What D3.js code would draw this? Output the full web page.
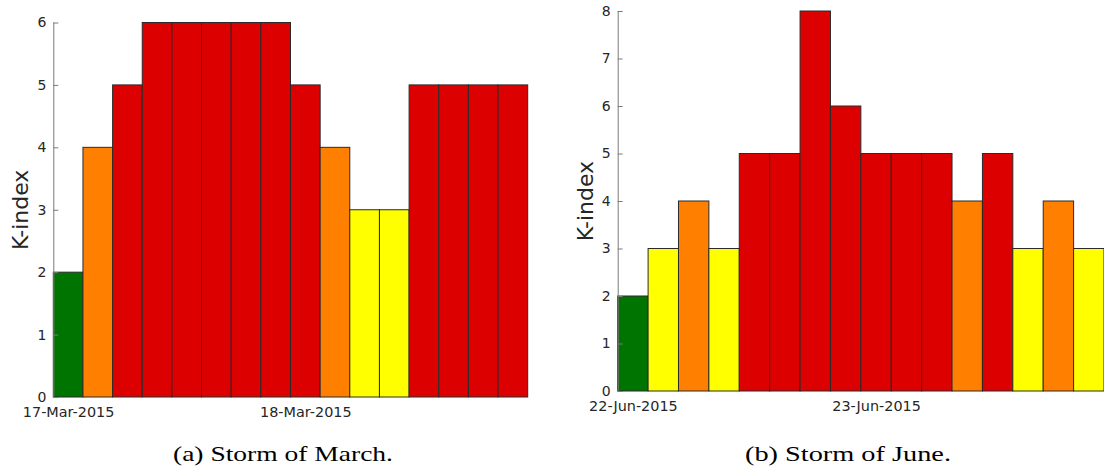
<!DOCTYPE html>
<html>
<head>
<meta charset="utf-8">
<script src="https://cdn.jsdelivr.net/npm/d3@7"></script>
<style>
  html, body { margin: 0; padding: 0; background: #fff; }
  svg { display: block; }
</style>
</head>
<body>
<svg id="fig" width="1104" height="470"></svg>
<script>
// Three-hourly K-index during two geomagnetic storms (2015)
const marchTimes = [
  "2015-03-17 00:00", "2015-03-17 03:00", "2015-03-17 06:00", "2015-03-17 09:00",
  "2015-03-17 12:00", "2015-03-17 15:00", "2015-03-17 18:00", "2015-03-17 21:00",
  "2015-03-18 00:00", "2015-03-18 03:00", "2015-03-18 06:00", "2015-03-18 09:00",
  "2015-03-18 12:00", "2015-03-18 15:00", "2015-03-18 18:00", "2015-03-18 21:00"
];
const marchK = [2, 4, 5, 6, 6, 6, 6, 6, 5, 4, 3, 3, 5, 5, 5, 5];

const juneTimes = [
  "2015-06-22 00:00", "2015-06-22 03:00", "2015-06-22 06:00", "2015-06-22 09:00",
  "2015-06-22 12:00", "2015-06-22 15:00", "2015-06-22 18:00", "2015-06-22 21:00",
  "2015-06-23 00:00", "2015-06-23 03:00", "2015-06-23 06:00", "2015-06-23 09:00",
  "2015-06-23 12:00", "2015-06-23 15:00", "2015-06-23 18:00", "2015-06-23 21:00"
];
const juneK = [2, 3, 4, 3, 5, 5, 8, 6, 5, 5, 5, 4, 5, 3, 4, 3];

const marchYTicks = [0, 1, 2, 3, 4, 5, 6];
const juneYTicks = [0, 1, 2, 3, 4, 5, 6, 7, 8];
const marchXTicks = ["2015-03-17 00:00", "2015-03-18 00:00"];
const juneXTicks = ["2015-06-22 00:00", "2015-06-23 00:00"];

const captions = ["(a)  Storm of March.", "(b)  Storm of June."];

// Storm-level colouring by K value
function kColor(k) {
  if (k <= 2) return "#007400";
  if (k === 3) return "#ffff00";
  if (k === 4) return "#ff8000";
  return "#dd0000";
}

const parse = d3.timeParse("%Y-%m-%d %H:%M");
const fmt = d3.timeFormat("%d-%b-%Y");
const halfBin = 1.5 * 3600 * 1000;

const svg = d3.select("#fig");

function panel(opts) {
  const times = opts.times.map(parse);
  const g = svg.append("g");

  const x = d3.scaleTime()
    .domain([new Date(+times[0] - halfBin), new Date(+times[times.length - 1] + halfBin)])
    .range([opts.left, opts.right]);
  const y = d3.scaleLinear()
    .domain([0, opts.ymax])
    .range([opts.bottom, opts.top]);

  // bars
  g.selectAll("rect.bar")
    .data(opts.values.map((v, i) => ({ t: times[i], v })))
    .join("rect")
    .attr("class", "bar")
    .attr("x", d => x(new Date(+d.t - halfBin)))
    .attr("width", d => x(new Date(+d.t + halfBin)) - x(new Date(+d.t - halfBin)))
    .attr("y", d => y(d.v))
    .attr("height", d => y(0) - y(d.v))
    .attr("fill", d => kColor(d.v))
    .attr("stroke", "#2a2a2a")
    .attr("stroke-width", 1);

  // y axis, ticks pointing inward
  const yAxis = d3.axisLeft(y)
    .tickValues(opts.yticks)
    .tickFormat(d3.format("d"))
    .tickSize(-5)
    .tickPadding(7);
  const ya = g.append("g")
    .attr("transform", `translate(${opts.left},0)`)
    .call(yAxis);
  ya.select(".domain").attr("stroke", "#7a7a7a").attr("d", `M0.5,${opts.bottom}V${opts.top}`);
  ya.selectAll(".tick line").attr("stroke", "#7a7a7a");
  ya.selectAll(".tick text")
    .attr("fill", "#262626")
    .style("font-family", "DejaVu Sans")
    .style("font-size", "14px");

  // x axis: day labels
  const xAxis = d3.axisBottom(x)
    .tickValues(opts.xticks.map(parse))
    .tickFormat(fmt)
    .tickSize(0)
    .tickPadding(10);
  const xa = g.append("g")
    .attr("transform", `translate(0,${opts.bottom})`)
    .call(xAxis);
  xa.select(".domain").remove();
  xa.selectAll(".tick text")
    .attr("fill", "#262626")
    .style("font-family", "DejaVu Sans")
    .style("font-size", "14.4px");

  // y label
  g.append("text")
    .attr("transform", `translate(${opts.left - 25},${(opts.top + opts.bottom) / 2}) rotate(-90)`)
    .attr("text-anchor", "middle")
    .attr("fill", "#262626")
    .style("font-family", "DejaVu Sans")
    .style("font-size", "22px")
    .text("K-index");

  // caption
  g.append("text")
    .attr("x", opts.capX)
    .attr("y", 461)
    .attr("text-anchor", "middle")
    .attr("fill", "#000")
    .style("font-family", "Liberation Serif")
    .style("font-size", "21px")
    .attr("textLength", opts.capW)
    .attr("lengthAdjust", "spacingAndGlyphs")
    .text(opts.caption);
}

panel({
  times: marchTimes, values: marchK, yticks: marchYTicks, xticks: marchXTicks,
  ymax: 6, left: 53.3, right: 527.7, top: 22.5, bottom: 397,
  caption: captions[0], capX: 283, capW: 220
});

panel({
  times: juneTimes, values: juneK, yticks: juneYTicks, xticks: juneXTicks,
  ymax: 8, left: 617.7, right: 1104, top: 11, bottom: 391,
  caption: captions[1], capX: 848, capW: 206
});
</script>
</body>
</html>
